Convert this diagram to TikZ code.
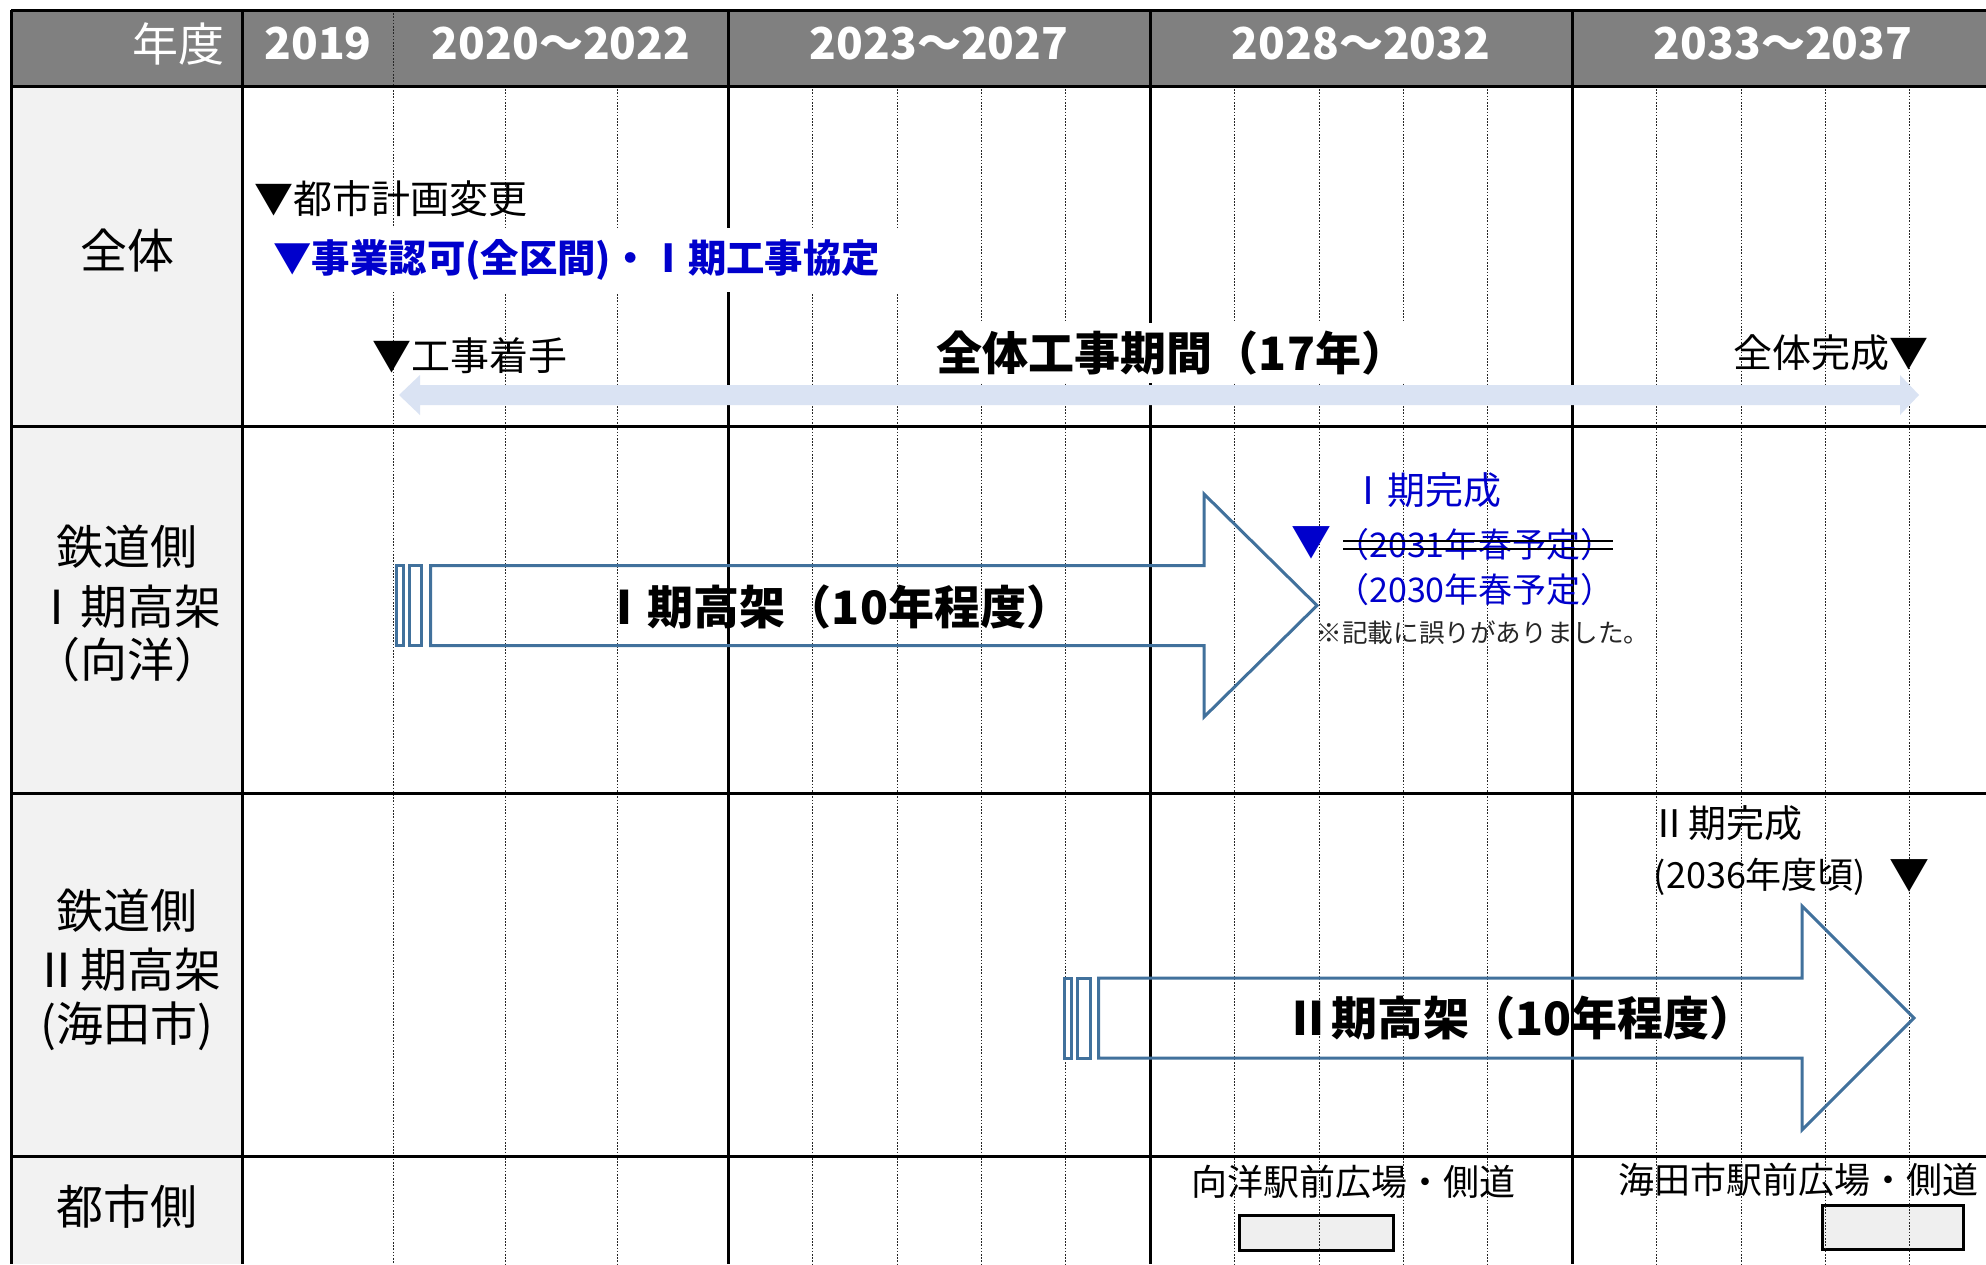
\documentclass[tikz,border=0pt]{standalone}
\usepackage{fontspec}
\setmainfont{Noto Sans CJK JP}
\definecolor{hdrgray}{RGB}{128,128,128}
\definecolor{lblgray}{RGB}{242,242,242}
\definecolor{boxgray}{RGB}{239,239,239}
\definecolor{txtblue}{RGB}{0,0,204}
\definecolor{arrowblue}{RGB}{65,113,156}
\definecolor{paleblue}{RGB}{218,227,243}
\begin{document}
\begin{tikzpicture}[x=0.5pt,y=-0.5pt,
  thickline/.style={line width=1.5pt,black},
  gridline/.style={line width=0.5pt,black!85,dash pattern=on 0.8pt off 0.8pt},
  arrowline/.style={line width=1.5pt,arrowblue},
  hdr/.style={text=white,inner sep=0pt,font=\bfseries\fontsize{22}{26}\selectfont},
  hdrlabel/.style={text=white,inner sep=0pt,font=\fontsize{23}{27}\selectfont},
  lbl/.style={inner sep=0pt,font=\fontsize{23.5}{28}\selectfont},
  note/.style={inner sep=0pt,font=\fontsize{19.5}{23}\selectfont},
  bluebold/.style={text=txtblue,font=\bfseries\fontsize{19.2}{23}\selectfont},
  bigbold/.style={inner sep=0pt,font=\bfseries\fontsize{23}{27}\selectfont},
  bluetext/.style={text=txtblue,inner sep=0pt,font=\fontsize{17}{20}\selectfont},
  midtext/.style={inner sep=0pt,font=\fontsize{18}{22}\selectfont},
  smalltext/.style={inner sep=0pt,text=black!85,font=\fontsize{12.8}{15}\selectfont},
  marker/.style={inner sep=0pt,font=\fontsize{20}{24}\selectfont},
  planbox/.style={line width=1.5pt,draw=black,fill=boxgray}
]
\useasboundingbox (0,0) rectangle (1986,1264);
% backgrounds
\fill[white] (0,0) rectangle (1986,1264);
\fill[hdrgray] (11,10) rectangle (1986,86);
\fill[lblgray] (11,86) rectangle (242,1264);
% city-side boxes (grid lines show through)
\draw[planbox] (1239,1215) rectangle (1393,1250);
\draw[planbox] (1822,1205) rectangle (1963,1249);
% dotted year lines
\draw[gridline] (393,10) -- (393,1264);
\foreach \x in {505,617,812,897,981,1065,1234,1319,1403,1487,1656,1741,1825,1909}
  \draw[gridline] (\x,86) -- (\x,1264);
% solid vertical lines
\foreach \x in {11,242,728,1150,1572}
  \draw[thickline] (\x,10) -- (\x,1264);
% solid horizontal lines
\foreach \y in {10,86,426,793,1156}
  \draw[thickline] (11,\y) -- (1986,\y);
% header texts
\node[hdrlabel,anchor=east] (nendo) at (225,44) {年度};
\node[hdr] (y2019) at (318,44) {2019};
\node[hdr] (y2020) at (561,44) {2020～2022};
\node[hdr] (y2023) at (939,44) {2023～2027};
\node[hdr] (y2028) at (1361,44) {2028～2032};
\node[hdr] (y2033) at (1783,44) {2033～2037};
% row labels
\node[lbl] (r1) at (127,251) {全体};
\node[lbl] (r2a) at (127,547) {鉄道側};
\node[lbl] (r2b) at (127,607) {Ⅰ期高架};
\node[lbl] (r2c) at (127,660) {（向洋）};
\node[lbl] (r3a) at (127,911) {鉄道側};
\node[lbl] (r3b) at (127,970) {Ⅱ期高架};
\node[lbl] (r3c) at (127,1026) {(海田市)};
\node[lbl] (r4) at (127,1207) {都市側};
% overall row
\fill[paleblue] (399,395) -- (420,375) -- (420,385) -- (1900,385) -- (1900,375)
  -- (1919,395) -- (1900,415) -- (1900,405) -- (420,405) -- (420,415) -- cycle;
\node[note,anchor=west] (toshi) at (254,199) {▼都市計画変更};
\node[bluebold,anchor=west,fill=white,inner xsep=10pt,inner ysep=6pt] (jigyo) at (253,260) {▼事業認可(全区間)・Ⅰ期工事協定};
\node[note,anchor=west] (chakushu) at (372,356) {▼工事着手};
\node[bigbold,fill=white,inner xsep=3pt,inner ysep=4pt] (zentai) at (1172,353) {全体工事期間（17年）};
\node[note,anchor=east] (kansei) at (1929,353) {全体完成▼};
% phase I arrow
\draw[arrowline] (430.5,565.5) -- (1204,565.5) -- (1204,494) -- (1317,605.5)
  -- (1204,717) -- (1204,645.5) -- (430.5,645.5) -- cycle;
\draw[arrowline] (396.5,565.5) rectangle (403.5,645.5);
\draw[arrowline] (409.5,565.5) rectangle (421.5,645.5);
\node[bigbold] (a1) at (837,607) {Ⅰ期高架（10年程度）};
\node[bluetext,anchor=west,font=\fontsize{19}{23}\selectfont] (k1) at (1349,490) {Ⅰ期完成};
\node[marker,text=txtblue] (tri1) at (1311,543) {▼};
\node[bluetext] (old) at (1475,545) {（2031年春予定）};
\draw[line width=1pt] (1343,541) -- (1613,541);
\draw[line width=1pt] (1343,549) -- (1613,549);
\node[bluetext] (new) at (1475,590) {（2030年春予定）};
\node[smalltext] (err) at (1483,633) {※記載に誤りがありました。};
% phase II arrow
\draw[arrowline] (1098.5,978) -- (1802,978) -- (1802,906) -- (1914,1018)
  -- (1802,1130) -- (1802,1058) -- (1098.5,1058) -- cycle;
\draw[arrowline] (1064.5,978) rectangle (1071.5,1058);
\draw[arrowline] (1077.5,978) rectangle (1090.5,1058);
\node[bigbold] (a2) at (1520,1018) {Ⅱ期高架（10年程度）};
\node[midtext,anchor=west,font=\fontsize{19}{23}\selectfont] (k2) at (1650,823) {Ⅱ期完成};
\node[midtext] (k2d) at (1760,877) {(2036年度頃)};
\node[marker] (tri2) at (1909,876) {▼};
% city side
\node[midtext] (st1) at (1353,1182) {向洋駅前広場・側道};
\node[midtext] (st2) at (1798,1180) {海田市駅前広場・側道};
\end{tikzpicture}
\end{document}
